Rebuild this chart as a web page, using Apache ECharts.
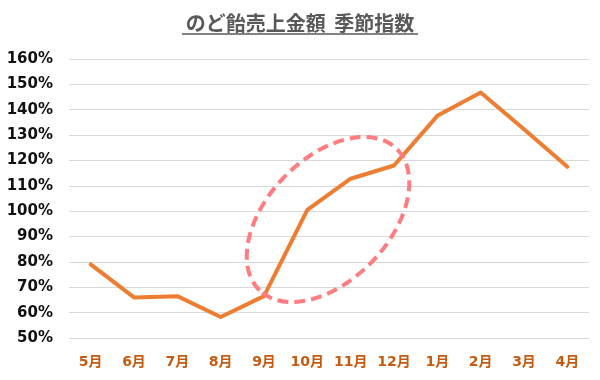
<!DOCTYPE html>
<html>
<head>
<meta charset="utf-8">
<script src="https://cdn.jsdelivr.net/npm/echarts@6/dist/echarts.min.js"></script>
<style>html,body{margin:0;padding:0;background:#fff}#c{width:600px;height:380px}</style>
</head>
<body>
<div id="c"></div>
<script>
const titleText = 'のど飴売上金額\u2009 季節指数';
const months = ['5月','6月','7月','8月','9月','10月','11月','12月','1月','2月','3月','4月'];
const seasonalIndex = [79, 66, 66.5, 58.3, 66.5, 100.5, 112.8, 118, 137.6, 146.8, 132.3, 117.5];
const yTicks = [50, 60, 70, 80, 90, 100, 110, 120, 130, 140, 150, 160];

const chart = echarts.init(document.getElementById('c'), null, {renderer: 'canvas'});
chart.setOption({
  animation: false,
  backgroundColor: '#ffffff',
  grid: {left: 69, right: 11, top: 59, bottom: 42, containLabel: false},
  xAxis: {
    type: 'category',
    data: months,
    boundaryGap: true,
    axisLine: {show: false},
    axisTick: {show: false},
    axisLabel: {
      interval: 0,
      color: '#C55A11', fontWeight: 'bold', fontSize: 14,
      fontFamily: 'DejaVu Sans, Noto Sans CJK JP, sans-serif', margin: 17
    }
  },
  yAxis: {
    type: 'value',
    min: yTicks[0], max: yTicks[yTicks.length - 1], interval: 10,
    axisLine: {show: false},
    axisTick: {show: false},
    splitLine: {lineStyle: {color: '#D9D9D9', width: 1}},
    axisLabel: {
      color: '#111111', fontWeight: 'bold', fontSize: 15,
      fontFamily: 'DejaVu Sans, sans-serif', margin: 16,
      formatter: v => v + '%'
    }
  },
  series: [{
    type: 'line',
    data: seasonalIndex,
    symbol: 'none',
    lineStyle: {color: '#ED7D31', width: 4, cap: 'round', join: 'round'},
    z: 3
  }],
  graphic: [
    {
      type: 'text', left: 'center', top: 13,
      style: {
        text: titleText, fill: '#595959', fontSize: 20, fontWeight: 'bold',
        fontFamily: 'Noto Sans CJK JP, sans-serif'
      }
    },
    {
      type: 'line', z: 10,
      shape: {x1: 182, y1: 34, x2: 418, y2: 34},
      style: {stroke: '#595959', lineWidth: 1.5}
    },
    {
      type: 'ellipse', z: 5,
      x: 328, y: 219.5, rotation: 46 * Math.PI / 180,
      shape: {cx: 0, cy: 0, rx: 98.5, ry: 61},
      style: {fill: 'none', stroke: '#FF7C80', lineWidth: 4, lineDash: [11, 6]}
    }
  ]
});
</script>
</body>
</html>
